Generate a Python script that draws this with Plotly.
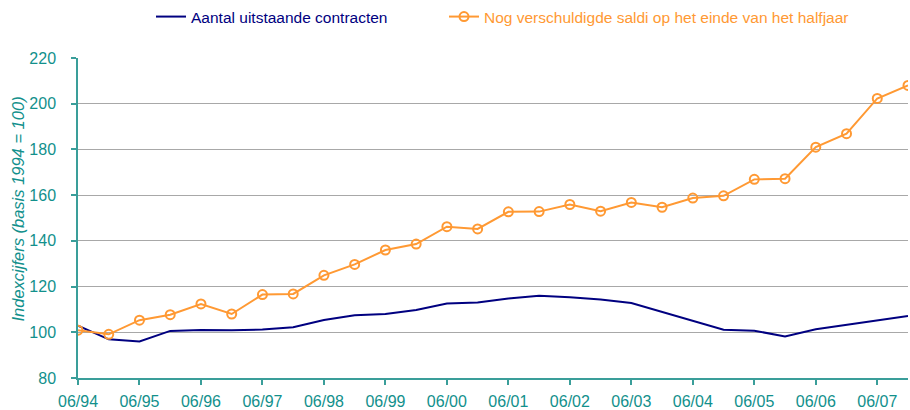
import plotly.graph_objects as go

periods = ["06/94", "12/94", "06/95", "12/95", "06/96", "12/96", "06/97", "12/97",
           "06/98", "12/98", "06/99", "12/99", "06/00", "12/00", "06/01", "12/01",
           "06/02", "12/02", "06/03", "12/03", "06/04", "12/04", "06/05", "12/05",
           "06/06", "12/06", "06/07", "12/07"]

contracten = [102.9, 96.9, 96.0, 100.6, 101.0, 100.9, 101.2, 102.2,
              105.4, 107.5, 108.0, 109.8, 112.6, 113.0, 114.8, 116.0,
              115.3, 114.3, 112.8, 108.9, 105.0, 101.1, 100.7, 98.2,
              101.3, 103.2, 105.2, 107.1]

saldi = [100.9, 99.1, 105.3, 107.7, 112.4, 108.0, 116.5, 116.8,
         124.9, 129.7, 136.0, 138.6, 146.2, 145.2, 152.7, 152.8,
         155.9, 153.0, 156.8, 154.7, 158.7, 159.7, 166.9, 167.2,
         181.0, 186.9, 202.3, 208.0]

tick_labels = ["06/94", "06/95", "06/96", "06/97", "06/98", "06/99", "06/00",
               "06/01", "06/02", "06/03", "06/04", "06/05", "06/06", "06/07"]

y_title = "Indexcijfers (basis 1994 = 100)"
name_blue = "Aantal uitstaande contracten"
name_orange = "Nog verschuldigde saldi op het einde van het halfjaar"

BLUE = "#000080"
ORANGE = "#FF9933"
TEAL_AXIS = "#3A9E9A"
TEAL_TEXT = "#12908C"
GRID = "#A8A8A8"

W, H = 910, 410
ML, MR, MT, MB = 78, 2, 58, 32
PW, PH = W - ML - MR, H - MT - MB

x = list(range(len(periods)))

fig = go.Figure()
fig.add_trace(go.Scatter(
    x=x, y=contracten, mode="lines",
    name=f'<span style="color:{BLUE}">{name_blue}</span>',
    line=dict(color=BLUE, width=2),
    legend="legend",
))
fig.add_trace(go.Scatter(
    x=x, y=saldi, mode="lines+markers",
    name=f'<span style="color:{ORANGE}">{name_orange}</span>',
    line=dict(color=ORANGE, width=2),
    marker=dict(symbol="circle-open", size=9, color=ORANGE, line=dict(width=2, color=ORANGE)),
    legend="legend2",
))

tickvals = [periods.index(t) for t in tick_labels]

legend_y = 1 + (MT - 17) / PH

fig.update_layout(
    width=W, height=H,
    margin=dict(l=ML, r=MR, t=MT, b=MB, autoexpand=False),
    paper_bgcolor="white", plot_bgcolor="white",
    font=dict(family="Liberation Sans, Arial, sans-serif", size=16, color=TEAL_TEXT),
    showlegend=True,
    legend=dict(
        orientation="h", xref="paper", yref="paper",
        x=(151 - ML) / PW, y=legend_y, xanchor="left", yanchor="middle",
        font=dict(size=15.5), bgcolor="rgba(0,0,0,0)",
    ),
    legend2=dict(
        orientation="h", xref="paper", yref="paper",
        x=(444 - ML) / PW, y=legend_y, xanchor="left", yanchor="middle",
        font=dict(size=15.5), bgcolor="rgba(0,0,0,0)",
    ),
    xaxis=dict(
        range=[0, len(periods) - 1], automargin=False,
        tickmode="array", tickvals=tickvals, ticktext=tick_labels,
        showgrid=False, zeroline=False,
        showline=True, linecolor=TEAL_AXIS, linewidth=1.5,
        ticks="outside", ticklen=5, tickcolor=TEAL_AXIS, tickwidth=1.5,
        tickfont=dict(size=16, color=TEAL_TEXT),
        ticklabelstandoff=3,
    ),
    yaxis=dict(
        range=[80, 220], dtick=20, tick0=80, automargin=False,
        showgrid=True, gridcolor=GRID, gridwidth=1,
        zeroline=False,
        showline=True, linecolor=TEAL_AXIS, linewidth=1.5,
        ticks="outside", ticklen=5, tickcolor=TEAL_AXIS, tickwidth=1.5,
        tickfont=dict(size=16, color=TEAL_TEXT),
        ticklabelstandoff=12,
    ),
    annotations=[dict(
        text=f"<i>{y_title}</i>", xref="paper", yref="paper",
        x=(18.5 - ML) / PW, y=0.528, xanchor="center", yanchor="middle",
        textangle=-90, showarrow=False,
        font=dict(size=16.5, color=TEAL_TEXT),
    )],
)

fig.write_html(
    "out.html",
    config={"displayModeBar": False},
    post_script="document.body.style.margin='0';document.body.style.overflow='hidden';",
)
